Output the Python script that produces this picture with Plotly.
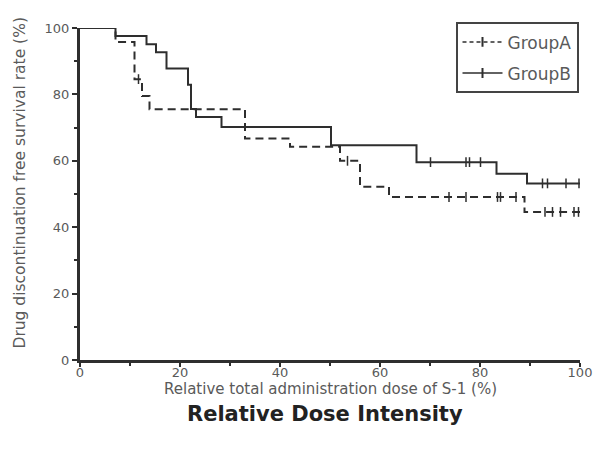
import plotly.graph_objects as go

# Kaplan-Meier style step data (x = relative dose %, y = survival %)
group_a_x = [0, 7.1, 10.9, 12.4, 13.9, 33.0, 42.0, 52.0, 56.0, 61.8, 88.9, 100]
group_a_y = [100, 95.8, 84.6, 79.5, 75.5, 66.7, 64.2, 60.0, 52.2, 49.1, 44.6, 44.6]
group_a_censor = [11.7, 53.5, 73.8, 77.2, 83.5, 84.1, 87.2, 93.0, 94.5, 96.1, 98.8, 99.7]

group_b_x = [0, 7.1, 13.3, 15.2, 17.3, 21.6, 22.2, 23.2, 28.3, 50.2, 67.3, 83.3, 89.4, 100]
group_b_y = [100, 97.6, 95.1, 92.7, 87.8, 82.9, 75.6, 73.2, 70.2, 64.7, 59.6, 56.1, 53.2, 53.2]
group_b_censor = [70.1, 77.2, 77.9, 80.1, 92.5, 93.5, 97.2, 99.8]

x_ticks = [0, 20, 40, 60, 80, 100]
y_ticks = [0, 20, 40, 60, 80, 100]

LINE = "#2e2e2e"
TEXT = "#5a5a5a"
FONT = "DejaVu Sans"


def step_value(xs, ys, x):
    """Survival value of a right-continuous step function at x."""
    val = ys[0]
    for sx, sy in zip(xs, ys):
        if sx <= x:
            val = sy
        else:
            break
    return val


fig = go.Figure()

for name, xs, ys, cens, dash in [
    ("GroupA", group_a_x, group_a_y, group_a_censor, "8px,5px"),
    ("GroupB", group_b_x, group_b_y, group_b_censor, "solid"),
]:
    # survival curve
    fig.add_trace(go.Scatter(
        x=xs, y=ys, mode="lines", line_shape="hv",
        line=dict(color=LINE, width=2, dash=dash),
        showlegend=False, legendgroup=name, hoverinfo="skip",
    ))
    # censored observations
    fig.add_trace(go.Scatter(
        x=cens, y=[step_value(xs, ys, c) for c in cens], mode="markers",
        marker=dict(symbol="line-ns", size=7, line=dict(color=LINE, width=1.5)),
        showlegend=False, legendgroup=name,
    ))
    # legend entry
    fig.add_trace(go.Scatter(
        x=[None], y=[None], mode="lines+markers", name=name, legendgroup=name,
        line=dict(color=LINE, width=1.5, dash="4px,3px" if dash != "solid" else "solid"),
        marker=dict(symbol="line-ns", size=7, line=dict(color=LINE, width=2)),
    ))

axis_common = dict(
    showgrid=False, zeroline=False, showline=True, linecolor=LINE, linewidth=3,
    ticks="outside", tickwidth=2, tickcolor=LINE,
    tickfont=dict(family=FONT, size=13, color=TEXT),
    minor=dict(ticks="outside", ticklen=3, tickwidth=2, tickcolor=LINE, dtick=10),
)

fig.update_xaxes(range=[0, 100], tickvals=x_ticks, ticklen=4, ticklabelstandoff=-6, **axis_common)
fig.update_yaxes(range=[0, 100], tickvals=y_ticks, ticklen=5, **axis_common)

title_font = dict(family=FONT, size=15, color=TEXT)
fig.add_annotation(
    text="Relative total administration dose of S-1 (%)", xref="paper", yref="paper",
    x=0.5, y=-0.088, xanchor="center", yanchor="middle", showarrow=False, font=title_font,
)
fig.add_annotation(
    text="Drug discontinuation free survival rate (%)", xref="paper", yref="paper",
    x=-0.119, y=0.533, xanchor="center", yanchor="middle", showarrow=False,
    textangle=-90, font=dict(family=FONT, size=15.5, color=TEXT),
)
fig.add_annotation(
    text="<b>Relative Dose Intensity</b>", xref="paper", yref="paper",
    x=0.49, y=-0.162, xanchor="center", yanchor="middle", showarrow=False,
    font=dict(family=FONT, size=21, color="#222"),
)

fig.update_layout(
    width=604, height=454,
    margin=dict(l=80, r=18, t=28, b=94),
    paper_bgcolor="white", plot_bgcolor="white",
    legend=dict(
        x=0.751, y=1.017, xanchor="left", yanchor="top",
        bordercolor="#444", borderwidth=2, bgcolor="white",
        font=dict(family=FONT, size=17, color=TEXT),
        tracegroupgap=6, itemwidth=40, entrywidth=82,
    ),
)

fig.write_html("out.html")
